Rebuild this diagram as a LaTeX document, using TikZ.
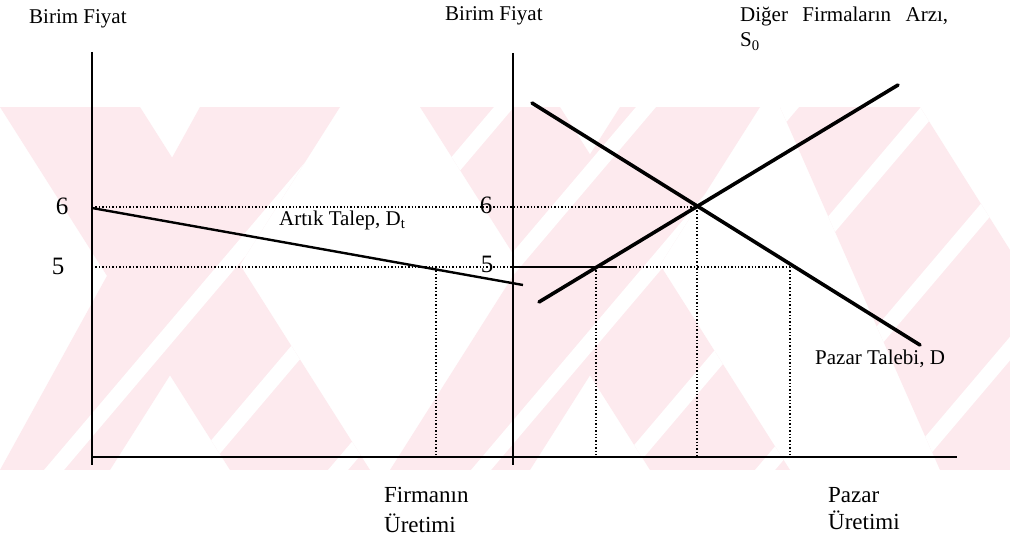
\documentclass[tikz,border=0pt]{standalone}
\usepackage{fontspec}
\setmainfont{Liberation Serif}
\usepackage{tikz}
\usetikzlibrary{positioning, calc}
\definecolor{WMPink}{RGB}{253, 234, 238}
\tikzset{
  axisline/.style={black, line width=1.8pt},
  curveline/.style={black, line width=3.6pt, line cap=round},
  guideline/.style={black, line width=1.4pt, dotted},
  lbl/.style={inner sep=0pt, font=\fontsize{21}{24}\selectfont},
  biglbl/.style={inner sep=0pt, font=\fontsize{23}{26}\selectfont},
  numlbl/.style={inner sep=0pt, font=\fontsize{25}{26}\selectfont},
}

\begin{document}
\begin{tikzpicture}[x=1pt,y=-1pt]
  \path[use as bounding box] (0,0) rectangle (1010,535);
  \fill[white] (0,0) rectangle (1010,535);

  % watermark behind the graphs
  \begin{scope}
    \clip (0,107) -- (140,107) -- (370,470) -- (230,470) -- cycle
          (200,107) -- (340,107) -- (110,470) -- (0,470) -- cycle
          (420,107) -- (560,107) -- (790,470) -- (650,470) -- cycle
          (620,107) -- (760,107) -- (530,470) -- (390,470) -- cycle
          (780,107) -- (920,107) -- (1010,250) -- (1010,470) -- (940,470) -- cycle;
    \fill[WMPink] (0,107) rectangle (1010,470);
    \foreach \xb in {44,186,328,471,613,755,897}
      \fill[white] (\xb,470) -- (\xb+20,470) -- (\xb+328,107) -- (\xb+308,107) -- cycle;
  \end{scope}

  % key points
  \coordinate (Ltop) at (92,52);
  \coordinate (Lbot) at (92,465);
  \coordinate (Rtop) at (513,53);
  \coordinate (Rbot) at (513,465);
  \coordinate (Xstart) at (92,457);
  \coordinate (Xend) at (957,457);
  \coordinate (Eq) at (697,207);
  \coordinate (Dres0) at (92,208);
  \coordinate (Dres1) at (523,285);
  \coordinate (Dm0) at (532,103);
  \coordinate (Dm1) at (920,345);
  \coordinate (Sup0) at (539,302);
  \coordinate (Sup1) at (898,85);
  \coordinate (Qf) at (436,267);
  \coordinate (Qs) at (596,267);
  \coordinate (Qd) at (790,267);
  \coordinate (P5) at (92,267);
  \coordinate (P6) at (92,207);
  \coordinate (Seg5) at (617,267);

  % axes
  \draw[axisline] (Ltop) -- (Lbot);
  \draw[axisline] (Rtop) -- (Rbot);
  \draw[axisline] (Xstart) -- (Xend);

  % price guides
  \draw[guideline] (P6) -- (Eq);
  \draw[guideline] (P5) -- (Qd);
  \draw[axisline] (Rbot |- Qs) -- (Seg5);
  \draw[guideline] (Qf) -- (Qf |- Xstart);
  \draw[guideline] (Qs) -- (Qs |- Xstart);
  \draw[guideline] (Eq) -- (Eq |- Xstart);
  \draw[guideline] (Qd) -- (Qd |- Xstart);

  % curves
  \draw[black, line width=2.4pt] (Dres0) -- (Dres1);
  \draw[curveline] (Dm0) -- (Dm1);
  \draw[curveline] (Sup0) -- (Sup1);

  % labels
  \node[lbl, anchor=base west] (yl1) at (29,24) {Birim Fiyat};
  \node[lbl, anchor=base west] (yl2) at (445,21) {Birim Fiyat};
  \node[lbl, anchor=base west] (supl) at (740,22) {\makebox[208pt][s]{Diğer Firmaların Arzı,}};
  \node[lbl, anchor=base west] (supl2) at (740,47) {S\textsubscript{0}};
  \node[numlbl, anchor=base] (six1) at (62,214) {6};
  \node[numlbl, anchor=base] (five1) at (58,274) {5};
  \node[numlbl, anchor=base] (six2) at (486,213) {6};
  \node[numlbl, anchor=base] (five2) at (487,272) {5};
  \node[lbl, anchor=base west] (resl) at (279,225) {Artık Talep, D\textsubscript{t}};
  \node[lbl, anchor=base west] (dml) at (815,364) {Pazar Talebi, D};
  \node[biglbl, anchor=base west] (xl1) at (384,502) {Firmanın};
  \node[biglbl, anchor=base west] (xl1b) at (384,532) {Üretimi};
  \node[biglbl, anchor=base west] (xl2) at (828,502) {Pazar};
  \node[biglbl, anchor=base west] (xl2b) at (828,529) {Üretimi};
\end{tikzpicture}
\end{document}
